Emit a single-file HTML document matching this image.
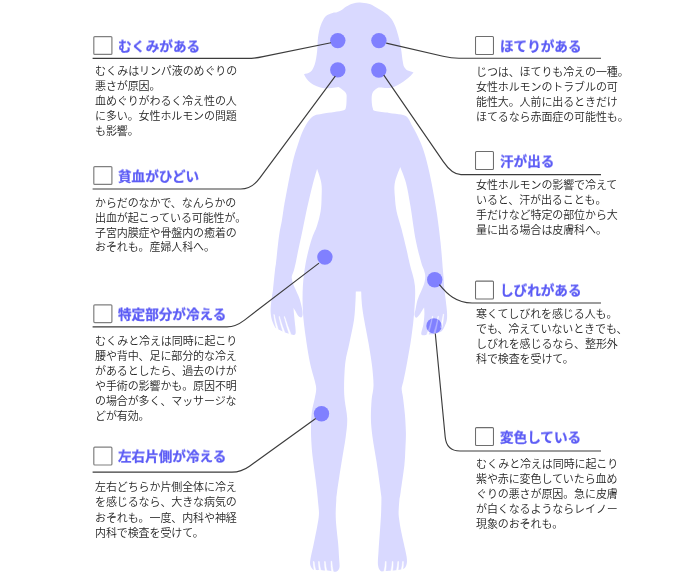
<!DOCTYPE html>
<html lang="ja">
<head>
<meta charset="utf-8">
<title>冷えチェック</title>
<style>
html,body{margin:0;padding:0;background:#fff;}
body{width:700px;height:578px;position:relative;overflow:hidden;font-family:"Liberation Sans","IPAGothic","Noto Sans CJK JP",sans-serif;}
svg{position:absolute;left:0;top:0;}
.t{position:absolute;margin:0;font-family:"Liberation Sans","Noto Sans CJK JP",sans-serif;font-weight:bold;font-size:13.6px;line-height:20px;color:#5b5bf5;white-space:nowrap;transform:scale(1,0.97);transform-origin:0 15.9px;-webkit-text-stroke:0.25px #5b5bf5;will-change:transform;}
.p{position:absolute;margin:0;font-family:"Liberation Sans","Noto Sans CJK JP",sans-serif;font-size:11px;font-weight:350;line-height:15px;color:#262626;will-change:transform;white-space:nowrap;letter-spacing:-0.1px;}
</style>
</head>
<body>
<svg width="700" height="578" viewBox="0 0 700 578">
<defs><clipPath id="dotclip"><circle cx="434.0" cy="325.9" r="7.7"/></clipPath></defs>
<path d="M360.0 2.6 C362.6 2.7 366.0 3.1 368.6 3.8 C371.2 4.5 373.1 5.7 375.4 6.9 C377.7 8.1 380.0 9.5 382.3 11.1 C384.6 12.7 387.2 14.4 389.1 16.3 C391.0 18.2 392.1 19.9 393.4 22.3 C394.7 24.7 395.9 27.8 396.9 30.9 C397.9 34.0 398.8 37.6 399.6 41.1 C400.4 44.6 401.0 48.7 401.5 52.0 C402.0 55.3 402.2 58.5 402.7 61.0 C403.1 63.5 403.3 65.4 404.2 67.0 C405.1 68.6 406.2 69.7 407.8 70.6 C409.4 71.5 412.4 72.0 413.5 72.4 C412.8 73.2 411.4 75.0 409.8 76.5 C408.2 78.0 405.7 80.0 403.6 81.5 C401.5 83.0 399.5 84.2 397.4 85.2 C395.3 86.2 393.3 87.2 391.2 87.7 C389.1 88.2 387.0 88.0 384.9 88.0 C382.8 88.0 379.8 87.7 378.5 87.6 C377.6 88.2 375.1 89.5 374.0 90.7 C372.9 91.9 372.4 92.8 372.0 94.5 C371.6 96.2 371.6 98.7 371.7 100.9 C371.8 103.2 372.1 106.3 372.7 108.0 C373.3 109.7 372.7 110.3 375.4 111.1 C378.1 111.9 384.8 112.3 389.1 112.9 C393.4 113.5 398.1 113.9 401.1 114.6 C404.1 115.3 405.4 115.5 407.1 117.1 C408.8 118.7 410.0 121.9 411.4 124.4 C412.8 126.9 413.9 128.6 415.6 132.0 C417.3 135.4 419.8 140.3 421.6 145.1 C423.4 149.9 424.9 154.2 426.6 161.0 C428.4 167.8 430.4 176.8 432.1 185.7 C433.8 194.6 435.6 204.8 437.0 214.3 C438.4 223.8 439.6 233.6 440.6 242.9 C441.6 252.2 442.4 264.4 442.9 270.0 C443.4 275.6 443.3 273.7 443.5 276.5 C443.7 279.3 443.8 283.0 444.2 286.9 C444.6 290.8 445.2 295.7 445.7 299.9 C446.2 304.1 446.8 308.6 447.0 312.0 C447.2 315.4 447.2 317.7 446.8 320.0 C446.4 322.3 445.7 324.1 444.8 326.0 C443.9 327.9 443.1 330.2 441.3 331.5 C439.5 332.8 436.2 333.5 434.0 334.0 C431.8 334.5 429.7 334.3 427.9 334.5 C426.1 334.7 424.5 335.5 423.4 335.3 C422.3 335.1 421.2 335.3 421.2 333.5 C421.2 331.7 422.9 327.7 423.4 324.5 C423.9 321.3 424.3 317.1 424.4 314.2 C424.5 311.3 424.2 308.8 424.1 307.4 C423.8 307.8 423.5 308.3 422.7 309.5 C421.9 310.7 420.6 313.4 419.5 314.8 C418.4 316.2 417.0 317.7 416.2 317.7 C415.4 317.7 414.6 316.2 414.5 314.8 C414.4 313.4 415.1 311.5 415.6 309.0 C416.1 306.5 416.6 302.7 417.5 299.9 C418.4 297.1 419.7 294.6 420.8 292.0 C421.9 289.4 423.2 286.9 424.0 284.3 C424.8 281.7 425.3 278.9 425.3 276.5 C425.3 274.1 424.6 272.3 424.0 270.0 C423.4 267.7 422.8 267.9 421.4 262.9 C420.0 257.9 417.5 249.5 415.7 240.0 C413.9 230.5 412.0 215.2 410.4 205.7 C408.8 196.2 407.7 189.3 406.0 182.9 C404.3 176.5 401.4 170.2 400.2 167.0 C399.1 170.2 395.7 177.9 394.8 182.9 C393.9 187.9 394.6 192.2 394.9 197.0 C395.2 201.8 395.5 206.1 396.6 211.4 C397.7 216.7 399.8 222.4 401.4 228.6 C403.0 234.8 404.9 242.5 406.3 248.6 C407.7 254.7 408.6 258.8 410.0 265.0 C411.4 271.2 414.2 278.0 414.9 285.7 C415.6 293.4 414.9 302.8 414.3 311.4 C413.7 319.9 412.6 328.4 411.4 337.0 C410.2 345.6 408.3 355.6 407.0 362.9 C405.7 370.2 404.3 376.7 403.4 381.0 C402.5 385.3 401.8 385.9 401.7 388.6 C401.6 391.4 402.5 393.2 403.0 397.5 C403.5 401.8 404.4 408.4 404.9 414.3 C405.4 420.2 405.8 427.3 405.9 433.0 C406.0 438.7 405.6 443.3 405.4 448.6 C405.1 453.9 405.2 457.7 404.4 465.0 C403.6 472.3 401.4 486.6 400.6 492.4 C399.8 498.2 399.7 496.7 399.4 500.0 C399.1 503.3 398.7 508.9 398.6 512.0 C398.6 515.1 398.7 515.8 399.1 518.9 C399.5 522.0 400.3 526.9 401.1 530.9 C401.9 534.9 402.8 538.6 403.7 542.9 C404.6 547.2 406.1 553.0 406.6 556.6 C407.1 560.2 407.1 562.3 406.6 564.3 C406.1 566.3 405.1 567.8 403.7 568.8 C402.3 569.8 399.9 569.7 398.0 570.0 C396.1 570.3 394.8 570.3 392.6 570.5 C390.4 570.7 387.0 570.9 385.0 571.0 C383.0 571.1 381.8 572.1 380.6 571.1 C379.4 570.1 378.4 568.4 378.0 565.1 C377.6 561.8 378.2 556.5 378.5 551.4 C378.8 546.3 379.3 540.0 379.7 534.3 C380.1 528.6 380.6 522.8 380.9 517.1 C381.2 511.4 381.4 504.1 381.4 500.0 C381.4 495.9 381.6 498.8 380.8 492.4 C380.0 486.0 377.9 470.8 376.5 461.6 C375.1 452.4 373.4 444.2 372.5 437.0 C371.6 429.8 371.0 424.7 370.9 418.5 C370.8 412.3 371.2 405.5 371.6 400.0 C372.0 394.5 373.4 391.2 373.5 385.7 C373.6 380.2 372.9 373.7 372.2 367.0 C371.4 360.3 370.3 353.5 369.0 345.7 C367.7 337.9 365.3 326.3 364.2 320.0 C363.1 313.7 362.8 311.5 362.3 308.0 C361.9 304.5 361.7 301.8 361.5 299.0 C361.3 296.2 361.3 292.9 361.2 291.4 C360.1 291.4 356.9 291.4 355.8 291.4 C355.7 293.3 355.8 296.2 355.5 301.0 C355.2 305.8 355.0 313.0 354.0 320.0 C353.0 327.0 350.8 336.0 349.4 343.0 C348.0 350.0 346.3 354.9 345.4 362.0 C344.5 369.1 344.2 379.4 344.1 385.7 C344.0 392.0 344.2 394.5 344.7 400.0 C345.2 405.5 347.0 412.3 347.2 418.5 C347.4 424.7 346.6 429.8 345.7 437.0 C344.8 444.2 343.1 452.4 341.7 461.6 C340.2 470.8 337.9 486.0 337.0 492.4 C336.1 498.8 336.5 496.4 336.3 500.0 C336.1 503.6 335.7 509.4 335.7 513.7 C335.7 518.0 335.9 520.8 336.3 525.7 C336.7 530.6 337.6 537.5 338.1 542.9 C338.6 548.3 338.9 554.2 339.1 558.3 C339.3 562.4 339.9 565.5 339.4 567.7 C338.9 569.9 337.4 571.2 336.0 571.7 C334.6 572.2 333.0 571.2 331.0 571.0 C329.0 570.8 326.3 570.7 324.0 570.5 C321.7 570.3 318.9 570.2 317.0 570.0 C315.1 569.8 314.0 570.2 312.9 569.4 C311.8 568.6 310.7 567.0 310.3 565.1 C309.9 563.2 310.0 561.8 310.6 558.3 C311.2 554.8 312.6 549.2 313.7 544.0 C314.8 538.8 316.2 531.8 317.1 527.0 C318.0 522.2 318.7 518.4 318.9 515.0 C319.1 511.6 318.9 510.7 318.5 506.4 C318.1 502.1 317.4 495.0 316.8 489.3 C316.2 483.6 315.3 477.8 314.6 472.1 C313.9 466.4 313.0 460.9 312.4 455.0 C311.8 449.1 311.3 442.0 311.1 436.6 C310.9 431.2 311.0 427.2 311.1 422.9 C311.2 418.6 311.4 414.9 312.0 410.9 C312.6 406.9 313.9 402.5 314.6 398.9 C315.3 395.2 316.2 392.0 316.2 389.0 C316.2 386.0 315.8 385.4 314.8 381.0 C313.8 376.6 311.5 370.2 310.0 362.9 C308.5 355.6 306.9 345.6 305.7 337.0 C304.5 328.4 303.4 319.9 302.9 311.4 C302.4 302.8 302.4 293.8 302.9 285.7 C303.4 277.6 304.3 270.5 305.7 262.9 C307.1 255.3 309.5 246.2 311.4 240.0 C313.3 233.8 315.5 230.5 317.0 225.7 C318.5 220.9 319.8 216.2 320.6 211.4 C321.4 206.6 321.5 201.8 321.6 197.0 C321.7 192.2 322.1 187.6 321.3 182.9 C320.6 178.2 317.9 171.5 317.1 168.7 C316.2 172.1 314.1 179.0 312.4 185.7 C310.7 192.3 308.6 201.4 307.0 208.6 C305.4 215.8 304.3 221.9 302.9 228.6 C301.5 235.3 299.8 242.9 298.6 248.6 C297.4 254.3 296.5 259.3 295.7 262.9 C294.9 266.5 294.6 267.7 294.0 270.0 C293.4 272.3 292.1 274.6 291.8 276.5 C291.6 278.4 292.0 279.8 292.5 281.7 C293.0 283.6 293.9 285.6 295.0 288.2 C296.1 290.8 297.9 294.3 299.0 297.3 C300.1 300.3 301.0 303.6 301.6 306.4 C302.2 309.2 302.7 312.4 302.6 314.2 C302.6 316.0 302.0 317.1 301.3 317.4 C300.6 317.7 299.2 317.1 298.3 316.1 C297.4 315.1 296.5 313.0 295.7 311.6 C294.9 310.2 293.9 308.5 293.5 307.7 C293.6 309.0 293.8 311.6 294.0 314.0 C294.2 316.4 294.5 318.9 294.8 322.0 C295.1 325.1 295.8 330.1 295.7 332.3 C295.6 334.5 295.1 334.8 294.0 335.0 C292.9 335.2 291.0 334.4 289.2 333.8 C287.4 333.2 285.5 332.6 283.4 331.7 C281.3 330.8 278.0 329.6 276.5 328.6 C275.0 327.6 275.2 327.6 274.3 325.8 C273.4 324.0 272.0 320.8 271.4 318.0 C270.8 315.2 270.5 312.7 270.6 309.0 C270.7 305.3 271.6 299.2 272.0 296.0 C272.4 292.8 272.5 293.8 273.0 289.5 C273.5 285.2 274.5 274.4 275.0 270.0 C275.5 265.6 275.5 266.9 276.0 262.9 C276.5 258.9 277.2 251.3 277.8 246.0 C278.4 240.7 279.1 235.2 279.8 231.0 C280.5 226.8 281.2 224.7 281.8 221.0 C282.4 217.3 282.9 213.4 283.6 209.0 C284.3 204.6 284.7 202.0 286.2 194.3 C287.7 186.6 290.5 171.5 292.5 162.9 C294.5 154.3 296.6 148.5 298.4 143.0 C300.2 137.5 301.5 133.8 303.3 130.0 C305.1 126.2 307.3 122.4 309.2 120.0 C311.1 117.6 312.4 116.5 314.6 115.4 C316.8 114.4 319.0 114.3 322.3 113.7 C325.6 113.1 330.7 112.6 334.3 112.0 C337.9 111.4 341.8 111.1 343.7 110.3 C345.6 109.5 345.5 109.2 346.0 107.0 C346.5 104.8 346.6 99.6 346.6 97.4 C346.7 95.2 346.7 95.1 346.3 94.0 C345.9 92.9 345.3 92.2 344.0 91.0 C342.7 89.8 339.7 87.9 338.6 87.1 C337.1 87.3 333.7 87.8 331.3 88.0 C328.9 88.2 326.4 88.5 324.0 88.2 C321.6 87.9 319.1 87.2 316.8 86.3 C314.6 85.4 312.2 84.0 310.5 82.7 C308.8 81.4 307.5 79.8 306.4 78.4 C305.3 77.0 304.5 75.0 304.0 74.2 C305.3 73.7 308.8 73.3 310.6 71.7 C312.4 70.1 313.6 67.8 314.7 64.4 C315.8 61.0 316.6 55.9 317.1 51.4 C317.7 46.9 317.4 42.0 318.0 37.7 C318.6 33.4 319.3 29.3 320.6 25.7 C321.9 22.1 323.7 18.4 325.7 16.3 C327.7 14.2 330.7 13.6 332.6 12.9 C334.5 12.2 335.6 12.6 337.0 12.2 C338.4 11.8 339.2 11.5 340.8 10.6 C342.4 9.7 344.2 7.7 346.3 6.5 C348.4 5.3 350.8 4.0 353.1 3.4 C355.4 2.8 357.4 2.5 360.0 2.6Z" fill="#d9d9ff"/>
<g fill="#fff" stroke="#fff" stroke-width="0.5" stroke-linejoin="round"><path d="M273.80 314.60 Q274.68 322.10 276.55 329.60 L278.25 329.60 Q275.72 322.10 274.20 314.60Z"/><path d="M279.00 316.60 Q280.58 324.60 283.15 332.60 L284.85 332.60 Q281.62 324.60 279.40 316.60Z"/><path d="M284.20 316.60 Q286.27 325.60 289.35 334.60 L291.05 334.60 Q287.32 325.60 284.60 316.60Z"/><path d="M443.30 314.10 Q442.33 320.80 440.35 327.50 L442.05 327.50 Q443.38 320.80 443.70 314.10Z"/><path d="M438.10 316.20 Q436.43 324.60 433.75 333.00 L435.45 333.00 Q437.48 324.60 438.50 316.20Z"/><path d="M432.40 316.20 Q430.08 325.60 426.75 335.00 L428.45 335.00 Q431.12 325.60 432.80 316.20Z"/><path d="M313.35 561.50 Q313.28 566.00 314.20 570.50 L315.80 570.50 Q314.43 566.00 314.05 561.50Z"/><path d="M318.55 561.50 Q318.47 566.25 319.40 571.00 L321.00 571.00 Q319.62 566.25 319.25 561.50Z"/><path d="M324.55 561.50 Q324.47 566.50 325.40 571.50 L327.00 571.50 Q325.62 566.50 325.25 561.50Z"/><path d="M331.05 561.20 Q330.93 566.75 331.80 572.30 L333.40 572.30 Q332.07 566.75 331.75 561.20Z"/><path d="M385.45 561.50 Q385.18 566.75 383.90 572.00 L385.50 572.00 Q386.32 566.75 386.15 561.50Z"/><path d="M392.35 561.50 Q392.07 566.50 390.80 571.50 L392.40 571.50 Q393.22 566.50 393.05 561.50Z"/><path d="M397.85 561.50 Q397.62 566.25 396.40 571.00 L398.00 571.00 Q398.77 566.25 398.55 561.50Z"/><path d="M402.65 561.50 Q402.43 565.65 401.20 569.80 L402.80 569.80 Q403.57 565.65 403.35 561.50Z"/></g>
<circle cx="337.8" cy="40.6" r="7.7" fill="#8080ff"/>
<circle cx="378.9" cy="40.6" r="7.7" fill="#8080ff"/>
<circle cx="337.8" cy="69.9" r="7.7" fill="#8080ff"/>
<circle cx="378.8" cy="70.1" r="7.7" fill="#8080ff"/>
<circle cx="324.9" cy="257.1" r="7.7" fill="#8080ff"/>
<circle cx="321.5" cy="413.7" r="7.7" fill="#8080ff"/>
<circle cx="434.7" cy="279.7" r="7.7" fill="#8080ff"/>
<circle cx="434.0" cy="325.9" r="7.7" fill="#8080ff"/>
<g fill="#fff" fill-opacity="0.3" stroke="#fff" stroke-opacity="0.3" stroke-width="0.5" stroke-linejoin="round" clip-path="url(#dotclip)"><path d="M443.30 314.10 Q442.33 320.80 440.35 327.50 L442.05 327.50 Q443.38 320.80 443.70 314.10Z"/><path d="M438.10 316.20 Q436.43 324.60 433.75 333.00 L435.45 333.00 Q437.48 324.60 438.50 316.20Z"/><path d="M432.40 316.20 Q430.08 325.60 426.75 335.00 L428.45 335.00 Q431.12 325.60 432.80 316.20Z"/></g>
<rect x="93.80" y="36.60" width="18.10" height="17.80" rx="1" fill="#fff" stroke="#808080" stroke-width="1.2"/>
<rect x="93.80" y="166.60" width="18.10" height="17.80" rx="1" fill="#fff" stroke="#808080" stroke-width="1.2"/>
<rect x="93.80" y="304.80" width="18.10" height="17.80" rx="1" fill="#fff" stroke="#808080" stroke-width="1.2"/>
<rect x="93.80" y="447.20" width="18.10" height="17.80" rx="1" fill="#fff" stroke="#808080" stroke-width="1.2"/>
<rect x="475.52" y="36.52" width="17.95" height="17.95" rx="1" fill="#fff" stroke="#6e6e6e" stroke-width="1.05"/>
<rect x="475.52" y="151.53" width="17.95" height="17.95" rx="1" fill="#fff" stroke="#6e6e6e" stroke-width="1.05"/>
<rect x="475.52" y="281.12" width="17.95" height="17.95" rx="1" fill="#fff" stroke="#6e6e6e" stroke-width="1.05"/>
<rect x="475.52" y="427.62" width="17.95" height="17.95" rx="1" fill="#fff" stroke="#6e6e6e" stroke-width="1.05"/>
<path d="M92.6 58.4 H247 Q255.1 58.4 263 56.6 L331 42.8" fill="none" stroke="#3c3c3c" stroke-width="1.15"/>
<path d="M92.6 189 H240.7 Q251.7 189 259.7 178.2 L335.3 76.1" fill="none" stroke="#3c3c3c" stroke-width="1.15"/>
<path d="M92.6 326.9 H227 Q235.6 326.9 244.5 320.1 L319 263.1" fill="none" stroke="#3c3c3c" stroke-width="1.15"/>
<path d="M92.6 472.1 H232 Q241.3 472.1 249.5 466.2 L315.7 418.5" fill="none" stroke="#3c3c3c" stroke-width="1.15"/>
<path d="M386.2 43.1 L443 56.2 Q451.5 58.2 459 58.2 H601" fill="none" stroke="#3c3c3c" stroke-width="1.15"/>
<path d="M383.8 75.2 L443.3 161.6 Q452.2 174.6 461 174.6 H601" fill="none" stroke="#3c3c3c" stroke-width="1.15"/>
<path d="M439.4 284.7 C447 294 456 303 472 303 H601" fill="none" stroke="#3c3c3c" stroke-width="1.15"/>
<path d="M435.3 333.5 L445.2 437 Q446.5 451 460 451 H601" fill="none" stroke="#3c3c3c" stroke-width="1.15"/>
</svg>
<h3 class="t" style="left:118px;top:36.8px">むくみがある</h3>
<p class="p" style="left:95px;top:63.9px;line-height:14.9px">むくみはリンパ液のめぐりの<br>悪さが原因。<br>血めぐりがわるく冷え性の人<br>に多い。女性ホルモンの問題<br>も影響。</p>
<h3 class="t" style="left:118px;top:166.8px">貧血がひどい</h3>
<p class="p" style="left:95px;top:196px;line-height:14.8px">からだのなかで、なんらかの<br>出血が起こっている可能性が。<br>子宮内膜症や骨盤内の癒着の<br>おそれも。産婦人科へ。</p>
<h3 class="t" style="left:118px;top:305px">特定部分が冷える</h3>
<p class="p" style="left:95px;top:333.6px;line-height:15px">むくみと冷えは同時に起こり<br>腰や背中、足に部分的な冷え<br>があるとしたら、過去のけが<br>や手術の影響かも。原因不明<br>の場合が多く、マッサージな<br>どが有効。</p>
<h3 class="t" style="left:118px;top:447.4px">左右片側が冷える</h3>
<p class="p" style="left:95px;top:479.6px;line-height:15.3px">左右どちらか片側全体に冷え<br>を感じるなら、大きな病気の<br>おそれも。一度、内科や神経<br>内科で検査を受けて。</p>
<h3 class="t" style="left:499.8px;top:36.8px">ほてりがある</h3>
<p class="p" style="left:475.5px;top:64.6px;line-height:15px">じつは、ほてりも冷えの一種。<br>女性ホルモンのトラブルの可<br>能性大。人前に出るときだけ<br>ほてるなら赤面症の可能性も。</p>
<h3 class="t" style="left:499.8px;top:151.8px">汗が出る</h3>
<p class="p" style="left:475.5px;top:178.3px;line-height:15px">女性ホルモンの影響で冷えて<br>いると、汗が出ることも。<br>手だけなど特定の部位から大<br>量に出る場合は皮膚科へ。</p>
<h3 class="t" style="left:499.8px;top:281.4px">しびれがある</h3>
<p class="p" style="left:475.5px;top:307.2px;line-height:15px">寒くてしびれを感じる人も。<br>でも、冷えていないときでも、<br>しびれを感じるなら、整形外<br>科で検査を受けて。</p>
<h3 class="t" style="left:499.8px;top:427.9px">変色している</h3>
<p class="p" style="left:475.5px;top:457px;line-height:15px">むくみと冷えは同時に起こり<br>紫や赤に変色していたら血め<br>ぐりの悪さが原因。急に皮膚<br>が白くなるようならレイノー<br>現象のおそれも。</p>
</body>
</html>
